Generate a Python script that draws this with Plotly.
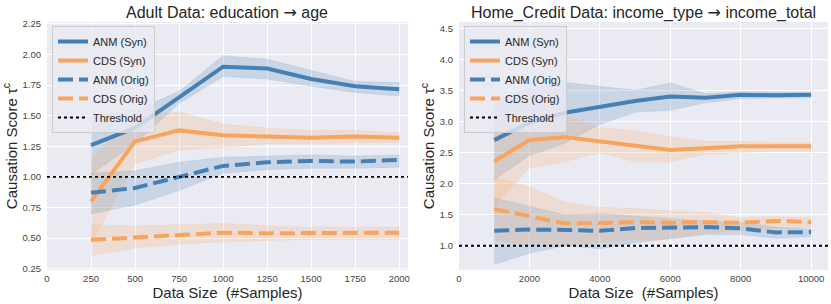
import plotly.graph_objects as go

# ---------------- data ----------------
adult_x = [250, 500, 750, 1000, 1250, 1500, 1750, 2000]
adult_anm_syn = [1.26, 1.40, 1.65, 1.90, 1.885, 1.80, 1.74, 1.715]
adult_anm_syn_lo = [1.02, 1.27, 1.60, 1.82, 1.80, 1.74, 1.69, 1.66]
adult_anm_syn_hi = [1.50, 1.54, 1.70, 1.99, 1.96, 1.87, 1.78, 1.77]
adult_cds_syn = [0.80, 1.29, 1.38, 1.34, 1.33, 1.32, 1.33, 1.32]
adult_cds_syn_lo = [0.45, 1.11, 1.22, 1.24, 1.27, 1.27, 1.28, 1.28]
adult_cds_syn_hi = [1.15, 1.49, 1.53, 1.43, 1.40, 1.38, 1.38, 1.36]
adult_anm_orig = [0.87, 0.91, 1.00, 1.09, 1.12, 1.13, 1.125, 1.14]
adult_anm_orig_lo = [0.70, 0.77, 0.89, 1.03, 1.06, 1.07, 1.07, 1.08]
adult_anm_orig_hi = [1.03, 1.05, 1.12, 1.16, 1.17, 1.18, 1.17, 1.18]
adult_cds_orig = [0.486, 0.505, 0.527, 0.545, 0.54, 0.54, 0.545, 0.545]
adult_cds_orig_lo = [0.36, 0.42, 0.45, 0.47, 0.48, 0.49, 0.49, 0.49]
adult_cds_orig_hi = [0.61, 0.60, 0.61, 0.62, 0.60, 0.59, 0.59, 0.59]

hc_x = [1000, 2000, 3000, 4000, 5000, 6000, 7000, 8000, 9000, 10000]
hc_anm_syn = [2.70, 2.98, 3.14, 3.24, 3.33, 3.40, 3.38, 3.43, 3.42, 3.43]
hc_anm_syn_lo = [2.06, 2.45, 2.65, 2.95, 3.15, 3.18, 3.30, 3.37, 3.37, 3.38]
hc_anm_syn_hi = [3.34, 3.53, 3.63, 3.57, 3.50, 3.62, 3.45, 3.48, 3.47, 3.47]
hc_cds_syn = [2.36, 2.70, 2.75, 2.68, 2.60, 2.54, 2.57, 2.60, 2.60, 2.60]
hc_cds_syn_lo = [1.65, 2.25, 2.35, 2.50, 2.35, 2.35, 2.47, 2.50, 2.52, 2.52]
hc_cds_syn_hi = [3.08, 3.15, 3.10, 2.90, 2.85, 2.75, 2.68, 2.68, 2.66, 2.66]
hc_anm_orig = [1.24, 1.26, 1.255, 1.24, 1.285, 1.30, 1.30, 1.28, 1.215, 1.22]
hc_anm_orig_lo = [0.70, 0.88, 1.00, 0.95, 1.05, 1.12, 1.18, 1.18, 1.12, 1.15]
hc_anm_orig_hi = [1.77, 1.63, 1.50, 1.52, 1.48, 1.45, 1.40, 1.38, 1.30, 1.27]
hc_cds_orig = [1.59, 1.48, 1.36, 1.365, 1.38, 1.37, 1.38, 1.37, 1.40, 1.38]
hc_cds_orig_lo = [1.10, 1.00, 1.00, 1.05, 1.10, 1.12, 1.20, 1.25, 1.28, 1.30]
hc_cds_orig_hi = [2.10, 1.95, 1.70, 1.62, 1.60, 1.56, 1.54, 1.45, 1.47, 1.45]

threshold = 1.0
series_names = ["ANM (Syn)", "CDS (Syn)", "ANM (Orig)", "CDS (Orig)"]
ARROW = '<span style="font-family:DejaVu Sans">\u2192</span>'
titles = ["Adult Data: education " + ARROW + " age",
          "Home_Credit Data: income_type " + ARROW + " income_total"]
adult_xticks = [0, 250, 500, 750, 1000, 1250, 1500, 1750, 2000]
adult_yticks = [0.25, 0.5, 0.75, 1.0, 1.25, 1.5, 1.75, 2.0, 2.25]
hc_xticks = [0, 2000, 4000, 6000, 8000, 10000]
hc_yticks = [1.0, 1.5, 2.0, 2.5, 3.0, 3.5, 4.0, 4.5]

# ---------------- style ----------------
W, H = 831, 304
BLUE = "#4480B6"
ORANGE = "#F9A45C"
BLUE_F = "rgba(68,128,182,0.2)"
ORANGE_F = "rgba(249,164,92,0.2)"
FONT = "Liberation Sans, Arial, sans-serif"

fig = go.Figure()

panels = [
    dict(x=adult_x,
         series=[(adult_anm_syn, adult_anm_syn_lo, adult_anm_syn_hi),
                 (adult_cds_syn, adult_cds_syn_lo, adult_cds_syn_hi),
                 (adult_anm_orig, adult_anm_orig_lo, adult_anm_orig_hi),
                 (adult_cds_orig, adult_cds_orig_lo, adult_cds_orig_hi)],
         xa="x", ya="y", legend="legend", xrange=[0, 2050]),
    dict(x=hc_x,
         series=[(hc_anm_syn, hc_anm_syn_lo, hc_anm_syn_hi),
                 (hc_cds_syn, hc_cds_syn_lo, hc_cds_syn_hi),
                 (hc_anm_orig, hc_anm_orig_lo, hc_anm_orig_hi),
                 (hc_cds_orig, hc_cds_orig_lo, hc_cds_orig_hi)],
         xa="x2", ya="y2", legend="legend2", xrange=[0, 10480]),
]
colors = [BLUE, ORANGE, BLUE, ORANGE]
fills = [BLUE_F, ORANGE_F, BLUE_F, ORANGE_F]
dashes = ["solid", "solid", "15px,6px", "15px,6px"]

for p in panels:
    xs = p["x"]
    for (mid, lo, hi), fc in zip(p["series"], fills):
        fig.add_trace(go.Scatter(
            x=list(xs) + list(xs)[::-1], y=list(hi) + list(lo)[::-1],
            fill="toself", fillcolor=fc, line=dict(width=0.6, color=fc),
            mode="lines", showlegend=False, hoverinfo="skip",
            xaxis=p["xa"], yaxis=p["ya"]))
    for (mid, lo, hi), name, c, d in zip(p["series"], series_names, colors, dashes):
        fig.add_trace(go.Scatter(
            x=xs, y=mid, mode="lines", name=name,
            line=dict(color=c, width=4, dash=d),
            xaxis=p["xa"], yaxis=p["ya"], legend=p["legend"]))
    fig.add_trace(go.Scatter(
        x=p["xrange"], y=[threshold, threshold], mode="lines", name="Threshold",
        line=dict(color="black", width=1.8, dash="dot"),
        xaxis=p["xa"], yaxis=p["ya"], legend=p["legend"]))

# geometry
L1, R1, L2, R2 = 47, 408, 459, 828
TOP, BOT = 22, 270
xd1 = [L1 / W, R1 / W]
xd2 = [L2 / W, R2 / W]
yd = [1 - BOT / H, 1 - TOP / H]

axis_common = dict(showgrid=True, gridcolor="white", gridwidth=1, automargin=False,
                   zeroline=False, showline=False, ticks="",
                   tickfont=dict(size=9.5, color="#444444", family=FONT))
xtitle = dict(text="Data Size \u00a0(#Samples)", font=dict(size=15), standoff=2)
ytitle = dict(text="Causation Score \u03c4<sup>c</sup>", font=dict(size=15), standoff=1)

legend_common = dict(xanchor="left", yanchor="top", y=1 - 26 / H,
                     bgcolor="rgba(234,234,242,0.8)", bordercolor="#CCCCCC", borderwidth=1,
                     font=dict(size=11, color="#262626"), itemwidth=30, tracegroupgap=0)

fig.update_layout(
    width=W, height=H,
    margin=dict(l=0, r=0, t=0, b=0, autoexpand=False),
    paper_bgcolor="white", plot_bgcolor="#EAEAF2",
    font=dict(family=FONT, color="#262626"),
    xaxis=dict(domain=xd1, range=panels[0]["xrange"], tickvals=adult_xticks, tickformat="d",
               title=xtitle, anchor="y", ticklabelstandoff=1, **axis_common),
    yaxis=dict(domain=yd, range=[0.24, 2.265], tickvals=adult_yticks, tickformat=".2f",
               title=ytitle, anchor="x", ticklabelstandoff=5, **axis_common),
    xaxis2=dict(domain=xd2, range=panels[1]["xrange"], tickvals=hc_xticks, tickformat="d",
                title=xtitle, anchor="y2", ticklabelstandoff=1, **axis_common),
    yaxis2=dict(domain=yd, range=[0.61, 4.6], tickvals=hc_yticks, tickformat=".1f",
                title=ytitle, anchor="x2", ticklabelstandoff=5, **axis_common),
    legend=dict(x=52 / W, **legend_common),
    legend2=dict(x=464 / W, **legend_common),
    showlegend=True,
)

for t, dom in zip(titles, [xd1, xd2]):
    fig.add_annotation(text=t, x=(dom[0] + dom[1]) / 2, y=1 - 12 / H,
                       xref="paper", yref="paper", xanchor="center", yanchor="middle",
                       showarrow=False, font=dict(size=16, color="#262626", family=FONT))

fig.write_html("out.html", config={"displayModeBar": False},
               post_script="document.body.style.margin='0';document.body.style.overflow='hidden';")
